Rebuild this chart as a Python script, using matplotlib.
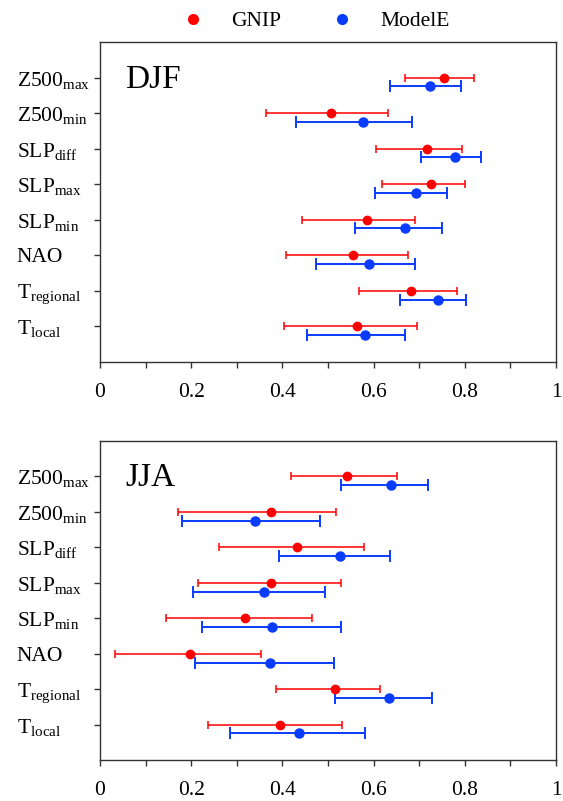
import numpy as np
import matplotlib
matplotlib.use("Agg")
import matplotlib.pyplot as plt
from matplotlib.lines import Line2D

plt.rcParams['font.family'] = ['Liberation Serif', 'DejaVu Serif']
plt.rcParams['mathtext.fontset'] = 'custom'
plt.rcParams['mathtext.rm'] = 'Liberation Serif'
plt.rcParams['mathtext.it'] = 'Liberation Serif'

labels = ['Z500$_{\\mathrm{max}}$', 'Z500$_{\\mathrm{min}}$', 'SLP$_{\\mathrm{diff}}$',
          'SLP$_{\\mathrm{max}}$', 'SLP$_{\\mathrm{min}}$', 'NAO',
          'T$_{\\mathrm{regional}}$', 'T$_{\\mathrm{local}}$']

# DJF
djf_gnip = [0.754, 0.507, 0.717, 0.726, 0.585, 0.555, 0.682, 0.563]
djf_gnip_lo = [0.669, 0.363, 0.606, 0.618, 0.442, 0.408, 0.569, 0.404]
djf_gnip_hi = [0.821, 0.631, 0.793, 0.800, 0.690, 0.676, 0.782, 0.695]
djf_model = [0.724, 0.577, 0.778, 0.692, 0.669, 0.590, 0.741, 0.581]
djf_model_lo = [0.637, 0.430, 0.704, 0.602, 0.559, 0.473, 0.658, 0.455]
djf_model_hi = [0.792, 0.685, 0.835, 0.760, 0.749, 0.690, 0.802, 0.668]

# JJA
jja_gnip = [0.541, 0.375, 0.433, 0.375, 0.317, 0.197, 0.515, 0.395]
jja_gnip_lo = [0.418, 0.172, 0.260, 0.215, 0.145, 0.034, 0.386, 0.237]
jja_gnip_hi = [0.652, 0.518, 0.579, 0.528, 0.464, 0.353, 0.614, 0.531]
jja_model = [0.638, 0.341, 0.526, 0.360, 0.378, 0.373, 0.634, 0.436]
jja_model_lo = [0.529, 0.180, 0.393, 0.203, 0.224, 0.208, 0.515, 0.285]
jja_model_hi = [0.720, 0.482, 0.635, 0.493, 0.529, 0.513, 0.727, 0.581]

RED = '#ff0000'
BLUE = '#0a3cff'

fig = plt.figure(figsize=(5.63, 8.01), dpi=100)
ax1 = fig.add_axes([0.1776, 0.5484, 0.81, 0.3992])
ax2 = fig.add_axes([0.1776, 0.0512, 0.81, 0.3982])


def panel(ax, title, g, glo, ghi, m, mlo, mhi):
    y = np.arange(len(labels))
    g = np.array(g); m = np.array(m)
    ax.errorbar(g, y, xerr=[g - np.array(glo), np.array(ghi) - g], fmt='o',
                color=RED, ms=6, lw=1.1, capsize=3.2, capthick=1.1, zorder=3)
    ax.errorbar(m, y + 0.25, xerr=[m - np.array(mlo), np.array(mhi) - m], fmt='o',
                color=BLUE, ms=6.5, lw=1.4, capsize=4.6, capthick=1.4, zorder=3)
    ax.set_xlim(0, 1)
    ax.set_ylim(8, -1)
    ax.set_yticks(y)
    ax.set_yticklabels(labels, fontsize=15.5, ha='left')
    ax.set_xticks(np.arange(0, 1.01, 0.2))
    ax.set_xticklabels(['0', '0.2', '0.4', '0.6', '0.8', '1'], fontsize=15.5)
    ax.set_xticks(np.arange(0.1, 1.0, 0.2), minor=True)
    ax.tick_params(axis='both', which='both', direction='out', length=4, width=1, color='#333333')
    ax.tick_params(axis='x', which='major', pad=11)
    ax.tick_params(axis='y', pad=56)
    for s in ax.spines.values():
        s.set_color('#333333')
        s.set_linewidth(1)
    ax.text(0.055, 0.05, title, fontsize=24, va='center', ha='left')


panel(ax1, 'DJF', djf_gnip, djf_gnip_lo, djf_gnip_hi, djf_model, djf_model_lo, djf_model_hi)
panel(ax2, 'JJA', jja_gnip, jja_gnip_lo, jja_gnip_hi, jja_model, jja_model_lo, jja_model_hi)

handles = [Line2D([], [], ls='none', marker='o', color=RED, ms=7),
           Line2D([], [], ls='none', marker='o', color=BLUE, ms=7)]
fig.legend(handles, ['GNIP', 'ModelE'], loc='center', bbox_to_anchor=(310.5 / 563, 1 - 21 / 801),
           ncol=2, frameon=False, fontsize=15.5, handletextpad=0.8, columnspacing=1.8,
           borderaxespad=0)

fig.savefig('out.png', dpi=100)
